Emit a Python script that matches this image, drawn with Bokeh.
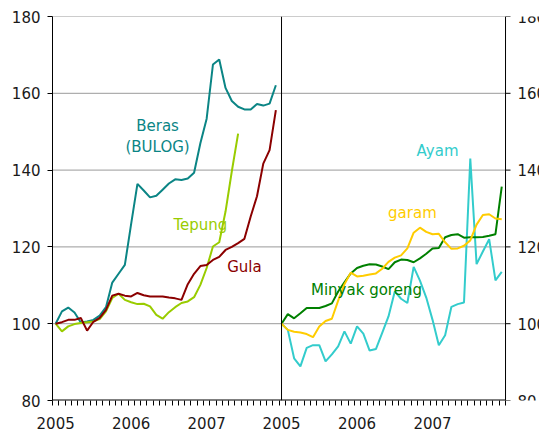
from bokeh.plotting import figure
from bokeh.models import FixedTicker, Span
from bokeh.core.properties import value
from bokeh.embed import file_html
from bokeh.resources import INLINE

# ---------------- data (monthly index, Jan 2005 = 100) ----------------
beras = [100, 103.2, 104.2, 102.9, 100.3, 100.6, 101.0, 102.1, 104.3, 110.7,
         113.0, 115.3, 126.0, 136.4, 134.7, 132.9, 133.3, 134.9, 136.5, 137.6,
         137.4, 137.8, 139.3, 147.0, 153.4, 167.5, 168.8, 161.4, 158.0, 156.5,
         155.8, 155.8, 157.2, 156.8, 157.3, 162.1]
gula = [100, 100.4, 101.0, 101.0, 101.5, 98.2, 100.5, 101.5, 103.6, 107.3,
        107.8, 107.3, 107.1, 108.0, 107.4, 107.1, 107.1, 107.1, 106.8, 106.6,
        106.2, 110.3, 113.0, 115.0, 115.3, 116.6, 117.4, 119.2, 120.0, 121.0,
        122.1, 127.9, 133.2, 141.7, 145.2, 155.6]
tepung = [100, 98.0, 99.3, 99.9, 100.2, 100.4, 100.6, 101.2, 103.2, 106.7,
          107.8, 106.2, 105.6, 105.1, 105.2, 104.5, 102.3, 101.3, 103.0, 104.3,
          105.4, 105.8, 106.9, 110.1, 114.5, 120.1, 121.2, 129.2, 139.7, 149.5]
minyak = [100, 102.5, 101.4, 102.7, 104.1, 104.1, 104.1, 104.6, 105.3, 108.4,
          110.8, 113.1, 114.5, 115.1, 115.5, 115.4, 114.9, 114.2, 116.0, 116.7,
          116.6, 116.0, 117.0, 118.2, 119.6, 119.7, 122.5, 123.1, 123.3, 122.4,
          122.5, 122.5, 122.6, 122.9, 123.3, 135.7]
garam = [100, 98.4, 97.9, 97.7, 97.3, 96.5, 99.3, 100.7, 101.3, 106.0,
         110.3, 113.3, 112.3, 112.5, 112.8, 113.1, 114.3, 116.1, 117.2, 117.8,
         119.6, 123.7, 125.0, 123.9, 123.3, 123.4, 121.2, 119.5, 119.6, 120.3,
         121.7, 125.8, 128.3, 128.5, 127.4, 127.2]
ayam = [100, 98.4, 91.0, 88.9, 93.7, 94.4, 94.4, 90.2, 92.0, 94.1,
        98.0, 94.8, 99.3, 97.4, 93.0, 93.4, 97.6, 101.9, 108.4, 106.5,
        105.4, 114.8, 111.2, 106.8, 101.0, 94.4, 97.0, 104.4, 105.1, 105.5,
        143.0, 115.5, 118.8, 122.0, 111.3, 113.5]
year_labels = ["2005", "2006", "2007"]
y_ticks = [80, 100, 120, 140, 160, 180]

# ---------------- layout constants ----------------
RIGHT_START = 36.4      # x where the right panel starts
X_END = 72.0            # x of the right axis
X_FULL = 77.4           # frame continues to the canvas edge (room for right labels)
FONT = "DejaVu Sans"
FS = "15px"
TXT = "#1a1a1a"
GRID = "#9a9a9a"

def left_x(vals):
    return [m + 0.5 for m in range(len(vals))]

def right_x(vals):
    return [RIGHT_START + m for m in range(len(vals))]

p = figure(width=539, height=433, x_range=(0, X_FULL), y_range=(80, 180),
           output_backend="svg", toolbar_location=None,
           min_border_left=52, min_border_right=0, min_border_top=16,
           min_border_bottom=33)
p.outline_line_color = None
p.background_fill_color = "white"
p.border_fill_color = "white"
p.xgrid.visible = False
p.ygrid.visible = False

# horizontal grid lines, only across the two panels
grid_vals = y_ticks[1:]
p.segment(x0=[0] * len(grid_vals), y0=grid_vals, x1=[X_END] * len(grid_vals),
          y1=grid_vals, line_color=GRID, line_width=1)

# x axis: years as labels, monthly tick marks
label_pos = [0.5 + 12 * i for i in range(3)] + [RIGHT_START + 12 * i for i in range(3)]
overrides = {pos: lab for pos, lab in zip(label_pos, year_labels + year_labels)}
xa = p.xaxis[0]
xa.ticker = FixedTicker(ticks=label_pos, minor_ticks=list(range(0, int(X_END) + 1)))
xa.major_label_overrides = overrides
xa.major_tick_out = 0
xa.major_tick_in = 0
xa.minor_tick_out = 5
xa.minor_tick_in = 0
xa.minor_tick_line_color = "black"
xa.axis_line_color = None
xa.major_label_standoff = 11
xa.major_label_text_font = FONT
xa.major_label_text_font_size = FS
xa.major_label_text_color = TXT
# bottom axis line (stops at the right axis)
p.segment(x0=[0], y0=[80], x1=[X_END], y1=[80], line_color="black", line_width=2)

ya = p.yaxis[0]
ya.ticker = FixedTicker(ticks=y_ticks)
ya.major_tick_out = 5
ya.major_tick_in = 0
ya.minor_tick_line_color = None
ya.axis_line_color = "black"
ya.major_tick_line_color = "black"
ya.major_label_standoff = 7
ya.major_label_text_font = FONT
ya.major_label_text_font_size = FS
ya.major_label_text_color = TXT

# right axis: line, ticks and (edge-clipped) labels
p.add_layout(Span(location=X_END, dimension="height", line_color="black", line_width=1))
p.ray(x=[X_END] * len(y_ticks), y=y_ticks, length=5, length_units="screen",
      angle=0, line_color="black", line_width=1)
p.text(x=[X_END] * len(y_ticks), y=y_ticks, text=[str(t) for t in y_ticks],
       x_offset=12, text_align="left", text_baseline="middle",
       text_font=value(FONT), text_font_size=FS, text_color=TXT)

# panel separator
p.add_layout(Span(location=RIGHT_START, dimension="height",
                  line_color="black", line_width=1))

# ---------------- series ----------------
LW = 2
p.line(left_x(beras), beras, line_color="#0b8585", line_width=LW)
p.line(left_x(tepung), tepung, line_color="#99cc00", line_width=LW)
p.line(left_x(gula), gula, line_color="#8b0000", line_width=LW)
p.line(right_x(ayam), ayam, line_color="#33cccc", line_width=LW)
p.line(right_x(minyak), minyak, line_color="#008000", line_width=LW)
p.line(right_x(garam), garam, line_color="#ffcc00", line_width=LW)

# ---------------- in-plot labels ----------------
names = ["Beras", "(BULOG)", "Tepung", "Gula", "Ayam", "garam", "Minyak goreng"]
name_x = [16.7, 16.7, 23.5, 30.5, 61.2, 57.2, 49.9]
name_y = [151.4, 146.0, 125.7, 114.8, 144.9, 128.8, 108.8]
name_c = ["#0b8585", "#0b8585", "#99cc00", "#8b0000", "#33cccc", "#ffcc00", "#008000"]
p.text(x=name_x, y=name_y, text=names, text_color=name_c,
       text_font=value(FONT), text_font_size=FS,
       text_align="center", text_baseline="middle")

open("out.html", "w").write(file_html(p, INLINE))
